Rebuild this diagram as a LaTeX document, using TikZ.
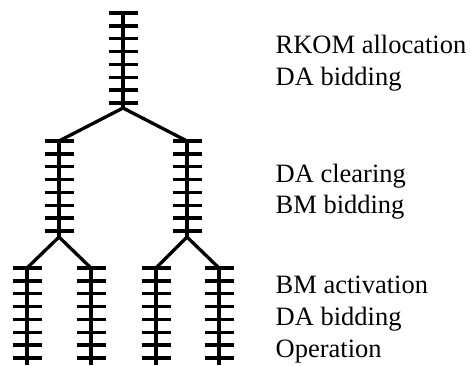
\documentclass[tikz,border=0pt]{standalone}
\usepackage{fontspec}
\setmainfont{Liberation Serif}
\begin{document}
\begin{tikzpicture}[x=1pt,y=-1pt,line width=3.3pt,
  lbl/.style={anchor=base west,inner sep=0pt,font=\fontsize{26.5}{32}\selectfont}]
\useasboundingbox (0,0) rectangle (471,365);

\coordinate (a) at (123,13);
\coordinate (aj) at (123,108);
\coordinate (b1) at (59,141);
\coordinate (b1j) at (59,237);
\coordinate (b2) at (187,141);
\coordinate (b2j) at (187,237);
\coordinate (c1) at (27,268);
\coordinate (c2) at (91,268);
\coordinate (c3) at (156,268);
\coordinate (c4) at (219,268);
\coordinate (c1e) at (27,365);
\coordinate (c2e) at (91,365);
\coordinate (c3e) at (156,365);
\coordinate (c4e) at (219,365);

\draw (a) -- (aj);
\draw (b1) -- (aj) -- (b2);
\draw (b1) -- (b1j);
\draw (b2) -- (b2j);
\draw (c1) -- (b1j) -- (c2);
\draw (c3) -- (b2j) -- (c4);
\draw (c1) -- (c1e);
\draw (c2) -- (c2e);
\draw (c3) -- (c3e);
\draw (c4) -- (c4e);

\foreach \x/\y in {123/13,59/141,187/141,27/268,91/268,156/268,219/268}
  \foreach \k in {0,...,7}
    \draw (\x-14.5,\y+\k*12.85) -- (\x+14.5,\y+\k*12.85);

\node[lbl] (t1) at (274,53) {RKOM allocation};
\node[lbl] (t2) at (274,85) {DA bidding};
\node[lbl] (t3) at (274,182) {DA clearing};
\node[lbl] (t4) at (274,213) {BM bidding};
\node[lbl] (t5) at (274,293) {BM activation};
\node[lbl] (t6) at (274,325) {DA bidding};
\node[lbl] (t7) at (274,357) {Operation};
\end{tikzpicture}
\end{document}
